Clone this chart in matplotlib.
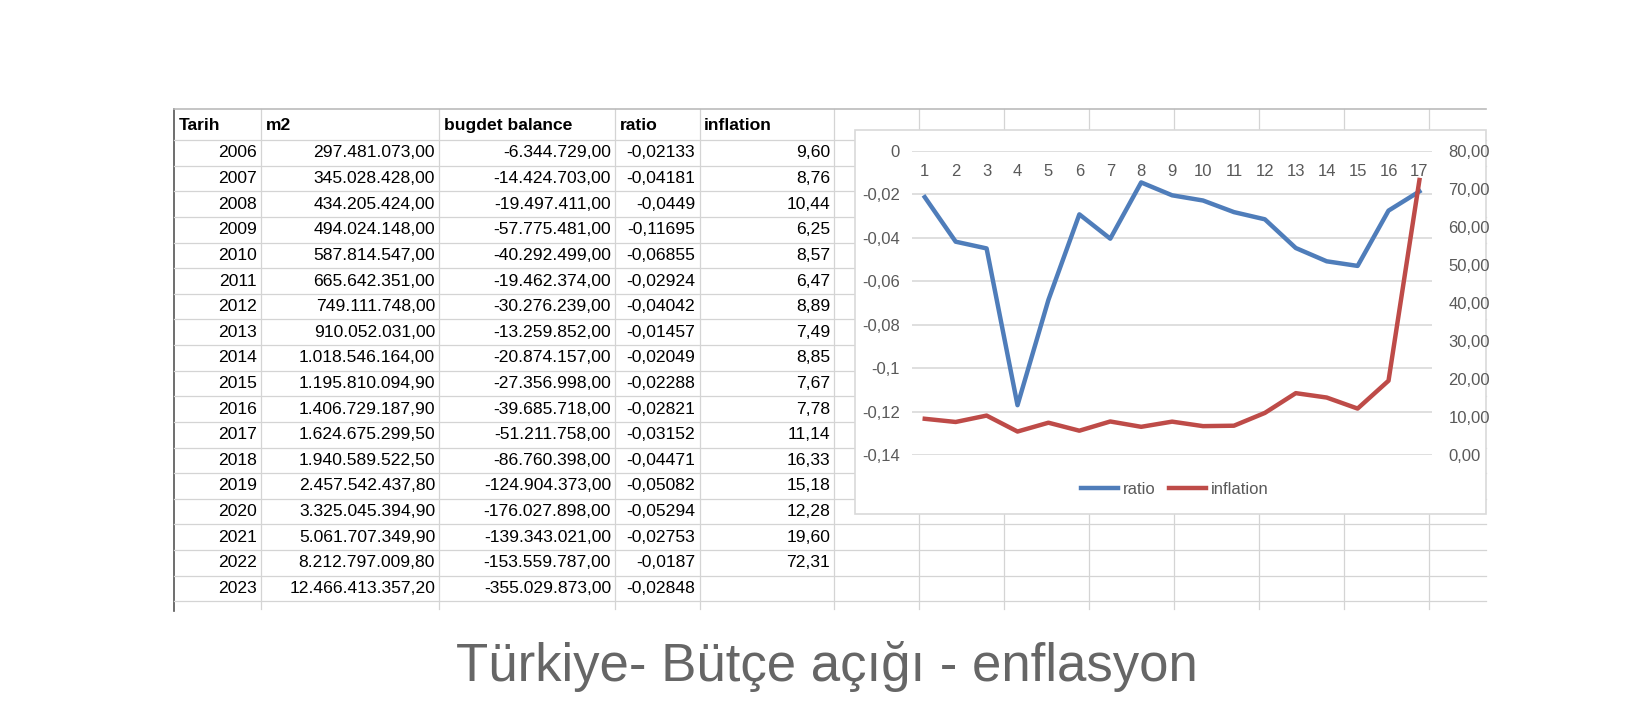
import matplotlib
matplotlib.use("Agg")
import matplotlib.pyplot as plt
from matplotlib.patches import Rectangle
from matplotlib.ticker import FixedLocator

years = [2006, 2007, 2008, 2009, 2010, 2011, 2012, 2013, 2014, 2015, 2016, 2017, 2018, 2019, 2020, 2021, 2022, 2023]
m2 = ["297.481.073,00", "345.028.428,00", "434.205.424,00", "494.024.148,00", "587.814.547,00",
      "665.642.351,00", "749.111.748,00", "910.052.031,00", "1.018.546.164,00", "1.195.810.094,90",
      "1.406.729.187,90", "1.624.675.299,50", "1.940.589.522,50", "2.457.542.437,80", "3.325.045.394,90",
      "5.061.707.349,90", "8.212.797.009,80", "12.466.413.357,20"]
budget = ["-6.344.729,00", "-14.424.703,00", "-19.497.411,00", "-57.775.481,00", "-40.292.499,00",
          "-19.462.374,00", "-30.276.239,00", "-13.259.852,00", "-20.874.157,00", "-27.356.998,00",
          "-39.685.718,00", "-51.211.758,00", "-86.760.398,00", "-124.904.373,00", "-176.027.898,00",
          "-139.343.021,00", "-153.559.787,00", "-355.029.873,00"]
ratio = [-0.02133, -0.04181, -0.0449, -0.11695, -0.06855, -0.02924, -0.04042, -0.01457, -0.02049,
         -0.02288, -0.02821, -0.03152, -0.04471, -0.05082, -0.05294, -0.02753, -0.0187, -0.02848]
inflation = [9.60, 8.76, 10.44, 6.25, 8.57, 6.47, 8.89, 7.49, 8.85, 7.67, 7.78, 11.14, 16.33,
             15.18, 12.28, 19.60, 72.31]
headers = ["Tarih", "m2", "bugdet balance", "ratio", "inflation"]
title = "Türkiye- Bütçe açığı - enflasyon"

W, H = 1568, 685
fig = plt.figure(figsize=(16.52, 7.22), dpi=100)
bg = fig.add_axes([0, 0, 1, 1])
bg.set_xlim(0, W); bg.set_ylim(H, 0); bg.axis("off")

FONT = "Liberation Sans"
TS = 12.6
grid_c = "#d4d4d4"
vx = [165, 248, 417, 584, 664, 792, 872, 953, 1034, 1114, 1195, 1276, 1356, 1410]
top, hdr_bot, step = 103, 133, 24.3
for x in vx[1:-1]:
    bg.plot([x, x], [top, 578], color=grid_c, lw=0.9)
bg.plot([165, 165], [top, 580], color="#555555", lw=1.2)
bg.plot([165, 1410], [top, top], color="#bbbbbb", lw=1.2)
for k in range(19):
    y = hdr_bot + step * k
    bg.plot([165, 1410], [y, y], color=grid_c, lw=0.9)

hx = [170, 252, 421, 588, 668]
for x, h in zip(hx, headers):
    bg.text(x, 119, h, ha="left", va="center", fontsize=TS, fontweight="bold", family=FONT)
for i, yr in enumerate(years):
    y = hdr_bot + step * (i + 0.5)
    bg.text(244, y, str(yr), ha="right", va="center", fontsize=TS, family=FONT)
    bg.text(413, y, m2[i], ha="right", va="center", fontsize=TS, family=FONT)
    bg.text(580, y, budget[i], ha="right", va="center", fontsize=TS, family=FONT)
    bg.text(660, y, str(ratio[i]).replace(".", ","), ha="right", va="center", fontsize=TS, family=FONT)
    if i < len(inflation):
        bg.text(788, y, f"{inflation[i]:.2f}".replace(".", ","), ha="right", va="center", fontsize=TS, family=FONT)

bg.add_patch(Rectangle((812, 123), 598, 365, facecolor="white", edgecolor="#d9d9d9", lw=1.2, zorder=5))
bg.text(785, 632, title, ha="center", va="center", fontsize=38, color="#666666", family=FONT)

ax = fig.add_axes([866 / W, 1 - 432 / H, 493 / W, 289 / H], zorder=10)
ax.patch.set_alpha(0)
xs = list(range(1, 18))
ax.plot(xs, ratio[:17], color="#4F7DBA", lw=3.2, label="ratio", zorder=3)
ax.set_xlim(0.6, 17.4)
ax.set_ylim(-0.14, 0)
lt = [0, -0.02, -0.04, -0.06, -0.08, -0.1, -0.12, -0.14]
ax.yaxis.set_major_locator(FixedLocator(lt))
ax.set_yticklabels([("%g" % v).replace(".", ",") for v in lt], color="#595959", fontsize=12, family=FONT)
ax.grid(axis="y", color="#d9d9d9", lw=1.2)
ax.set_axisbelow(True)
ax.xaxis.set_ticks_position("top")
ax.set_xticks(xs)
ax.set_xticklabels([str(x) for x in xs], color="#595959", fontsize=12, family=FONT)
ax.tick_params(axis="x", length=0, pad=-20)
ax.tick_params(axis="y", length=0, pad=9)
for s in ax.spines.values():
    s.set_visible(False)

ax2 = ax.twinx()
ax2.plot(xs, inflation, color="#BE4B48", lw=3.2, label="inflation", zorder=3)
ax2.set_ylim(0, 80)
rt = list(range(0, 81, 10))
ax2.yaxis.set_major_locator(FixedLocator(rt))
ax2.set_yticklabels([f"{v:.2f}".replace(".", ",") for v in rt], color="#595959", fontsize=12, family=FONT)
ax2.tick_params(axis="y", length=0, pad=12)
for s in ax2.spines.values():
    s.set_visible(False)

h1, l1 = ax.get_legend_handles_labels()
h2, l2 = ax2.get_legend_handles_labels()
fig.legend(h1 + h2, l1 + l2, loc="center", bbox_to_anchor=(1115 / W, 1 - 464 / H), ncol=2,
           frameon=False, prop={"family": FONT, "size": 12}, handlelength=2.2, columnspacing=0.8,
           handletextpad=0.3, labelcolor="#595959")

fig.savefig("out.png", dpi=100, facecolor="white")
